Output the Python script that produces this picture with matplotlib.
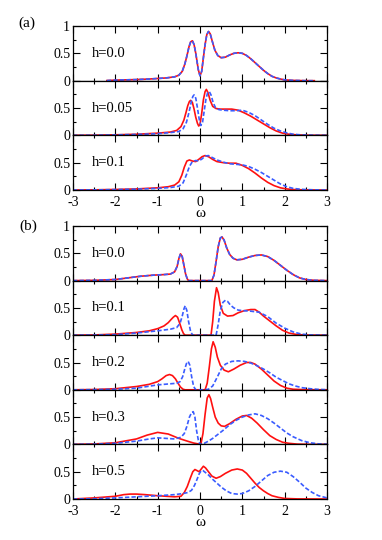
import matplotlib
matplotlib.use("Agg")
import matplotlib.pyplot as plt
from matplotlib.ticker import MultipleLocator, FixedLocator, FixedFormatter

# ---- data: omega grid + spectral weight per curve ----
# (a) h=0.0  (red and blue coincide)
wa0 = [-2.2, -2.0, -1.5, -1.2, -1.0, -0.8, -0.6, -0.5, -0.42, -0.36, -0.31, -0.26, -0.22, -0.18,
       -0.14, -0.1, -0.07, -0.04, 0.0, 0.04, 0.08, 0.12, 0.16, 0.2, 0.24, 0.29, 0.35, 0.42, 0.5,
       0.6, 0.7, 0.8, 0.9, 1.0, 1.1, 1.2, 1.3, 1.4, 1.5, 1.6, 1.7, 1.8, 1.9, 2.0, 2.2, 2.5, 2.7]
sa0 = [0.002, 0.01, 0.02, 0.03, 0.04, 0.05, 0.07, 0.1, 0.17, 0.3, 0.45, 0.62, 0.71, 0.73,
       0.66, 0.5, 0.35, 0.2, 0.09, 0.17, 0.42, 0.66, 0.84, 0.9, 0.86, 0.72, 0.56, 0.46, 0.42,
       0.43, 0.47, 0.5, 0.51, 0.5, 0.46, 0.4, 0.33, 0.26, 0.19, 0.13, 0.08, 0.05, 0.03, 0.015, 0.005, 0, 0]

# (a) h=0.05
wa5r = [-3, -2.5, -2, -1.5, -1.0, -0.7, -0.55, -0.45, -0.38, -0.33, -0.29, -0.25, -0.22, -0.18,
        -0.14, -0.1, -0.06, -0.03, 0.0, 0.04, 0.08, 0.12, 0.15, 0.19, 0.24, 0.3, 0.38, 0.48, 0.6,
        0.75, 0.9, 1.05, 1.2, 1.35, 1.5, 1.65, 1.8, 1.95, 2.1, 2.3, 2.6, 3]
sa5r = [0, 0.003, 0.01, 0.02, 0.04, 0.06, 0.09, 0.16, 0.28, 0.42, 0.54, 0.62, 0.64, 0.6,
        0.48, 0.33, 0.22, 0.17, 0.2, 0.4, 0.65, 0.8, 0.84, 0.78, 0.64, 0.53, 0.49, 0.48, 0.48,
        0.48, 0.46, 0.41, 0.35, 0.28, 0.21, 0.14, 0.08, 0.04, 0.02, 0.008, 0.002, 0]
wa5b = [-3, -2.5, -2, -1.5, -1.0, -0.7, -0.5, -0.4, -0.32, -0.26, -0.21, -0.17, -0.14, -0.1,
        -0.06, -0.02, 0.02, 0.06, 0.1, 0.14, 0.18, 0.22, 0.26, 0.31, 0.37, 0.45, 0.55, 0.7, 0.85,
        1.0, 1.15, 1.3, 1.45, 1.6, 1.75, 1.9, 2.05, 2.2, 2.4, 2.7, 3]
sa5b = [0, 0.002, 0.008, 0.016, 0.03, 0.05, 0.07, 0.12, 0.24, 0.42, 0.6, 0.71, 0.74, 0.68,
        0.5, 0.3, 0.18, 0.24, 0.45, 0.66, 0.78, 0.8, 0.74, 0.6, 0.5, 0.47, 0.46, 0.45, 0.45,
        0.46, 0.42, 0.36, 0.28, 0.2, 0.13, 0.08, 0.045, 0.02, 0.008, 0.002, 0]

# (a) h=0.1
wa1r = [-3, -2.5, -2, -1.5, -1.0, -0.75, -0.6, -0.5, -0.43, -0.37, -0.31, -0.25, -0.18, -0.1,
        -0.03, 0.05, 0.12, 0.2, 0.3, 0.4, 0.55, 0.7, 0.85, 1.0, 1.15, 1.3, 1.45, 1.6, 1.75, 1.9,
        2.05, 2.2, 2.5, 3]
sa1r = [0, 0.003, 0.01, 0.02, 0.04, 0.06, 0.09, 0.15, 0.27, 0.42, 0.53, 0.55, 0.53, 0.52,
        0.56, 0.61, 0.63, 0.61, 0.56, 0.52, 0.5, 0.49, 0.49, 0.45, 0.39, 0.31, 0.22, 0.14, 0.08, 0.04,
        0.02, 0.008, 0.002, 0]
wa1b = [-3, -2.5, -2, -1.5, -1.0, -0.7, -0.5, -0.4, -0.32, -0.25, -0.18, -0.1, -0.03, 0.05,
        0.12, 0.2, 0.3, 0.4, 0.55, 0.7, 0.85, 1.0, 1.15, 1.3, 1.45, 1.6, 1.75, 1.9, 2.05, 2.2,
        2.4, 2.7, 3]
sa1b = [0, 0.002, 0.008, 0.016, 0.03, 0.045, 0.07, 0.13, 0.28, 0.43, 0.52, 0.54, 0.53, 0.57,
        0.62, 0.63, 0.59, 0.55, 0.51, 0.48, 0.47, 0.46, 0.43, 0.38, 0.32, 0.25, 0.18, 0.11, 0.06, 0.03,
        0.012, 0.003, 0]

# (b) h=0.0  (red and blue coincide)
wb0 = [-3, -2.5, -2.0, -1.7, -1.4, -1.1, -0.85, -0.7, -0.6, -0.54, -0.5, -0.46, -0.42, -0.38,
       -0.34, -0.3, -0.27, 0.28, 0.33, 0.38, 0.43, 0.48, 0.52, 0.57, 0.63, 0.7, 0.78, 0.87, 1.0,
       1.15, 1.3, 1.45, 1.6, 1.75, 1.9, 2.05, 2.2, 2.35, 2.5, 2.7, 3]
sb0 = [0, 0.005, 0.02, 0.05, 0.08, 0.1, 0.11, 0.12, 0.16, 0.26, 0.4, 0.49, 0.44, 0.28,
       0.12, 0.03, 0, 0, 0.1, 0.35, 0.62, 0.78, 0.8, 0.74, 0.6, 0.48, 0.41, 0.38, 0.39,
       0.43, 0.46, 0.47, 0.44, 0.37, 0.28, 0.19, 0.11, 0.05, 0.02, 0.005, 0]

# (b) h=0.1
wb1r = [-3, -2.5, -2, -1.5, -1.2, -1.0, -0.85, -0.75, -0.68, -0.63, -0.58, -0.53, -0.48, -0.43,
        -0.39, -0.35, 0.26, 0.3, 0.34, 0.39, 0.43, 0.48, 0.55, 0.65, 0.78, 0.9, 1.05, 1.2, 1.3,
        1.4, 1.5, 1.65, 1.8, 1.95, 2.1, 2.3, 2.6, 3]
sb1r = [0, 0.005, 0.02, 0.05, 0.08, 0.12, 0.17, 0.23, 0.29, 0.33, 0.36, 0.33, 0.22, 0.1,
        0.03, 0, 0, 0.25, 0.62, 0.87, 0.78, 0.55, 0.4, 0.35, 0.36, 0.41, 0.45, 0.47, 0.47,
        0.42, 0.35, 0.26, 0.17, 0.09, 0.04, 0.01, 0.002, 0]
wb1b = [-3, -2.5, -2, -1.5, -1.0, -0.7, -0.55, -0.47, -0.42, -0.38, -0.35, -0.31, -0.27, -0.22,
        -0.17, 0.38, 0.43, 0.48, 0.54, 0.6, 0.65, 0.72, 0.8, 0.9, 1.0, 1.2, 1.4, 1.6, 1.8, 2.0,
        2.2, 2.4, 2.6, 3]
sb1b = [0, 0.003, 0.01, 0.04, 0.08, 0.11, 0.14, 0.22, 0.35, 0.48, 0.54, 0.45, 0.25, 0.06,
        0, 0, 0.2, 0.45, 0.6, 0.64, 0.62, 0.55, 0.5, 0.46, 0.45, 0.44, 0.42, 0.34, 0.22, 0.13,
        0.06, 0.02, 0.005, 0]

# (b) h=0.2
wb2r = [-3, -2.5, -2, -1.5, -1.2, -1.0, -0.9, -0.8, -0.72, -0.65, -0.58, -0.52, -0.46, -0.4,
        -0.35, 0.12, 0.17, 0.22, 0.27, 0.31, 0.36, 0.41, 0.48, 0.57, 0.67, 0.8, 0.95, 1.1, 1.2,
        1.3, 1.45, 1.6, 1.75, 1.9, 2.05, 2.2, 2.5, 3]
sb2r = [0, 0.005, 0.02, 0.06, 0.1, 0.15, 0.2, 0.26, 0.28, 0.26, 0.2, 0.12, 0.05, 0.01,
        0, 0, 0.12, 0.42, 0.75, 0.88, 0.78, 0.6, 0.45, 0.36, 0.33, 0.38, 0.45, 0.5, 0.5,
        0.47, 0.38, 0.27, 0.16, 0.08, 0.03, 0.01, 0.002, 0]
wb2b = [-3, -2.5, -2, -1.5, -1.0, -0.7, -0.55, -0.47, -0.41, -0.36, -0.32, -0.28, -0.24, -0.2,
        -0.15, -0.1, 0.1, 0.2, 0.3, 0.4, 0.5, 0.6, 0.75, 0.9, 1.05, 1.2, 1.35, 1.5, 1.65, 1.8,
        1.95, 2.1, 2.25, 2.4, 2.6, 2.8, 3]
sb2b = [0, 0.003, 0.01, 0.03, 0.09, 0.11, 0.12, 0.15, 0.24, 0.38, 0.48, 0.52, 0.45, 0.25,
        0.06, 0, 0, 0.01, 0.07, 0.22, 0.38, 0.47, 0.52, 0.53, 0.52, 0.49, 0.44, 0.38, 0.31, 0.23,
        0.17, 0.11, 0.07, 0.04, 0.02, 0.007, 0.002]

# (b) h=0.3
wb3r = [-3, -2.5, -2, -1.5, -1.25, -1.0, -0.75, -0.5, -0.3, -0.15, 0.02, 0.07, 0.12, 0.17,
        0.21, 0.25, 0.3, 0.36, 0.43, 0.5, 0.58, 0.7, 0.85, 1.0, 1.1, 1.22, 1.35, 1.5, 1.65, 1.8,
        1.95, 2.1, 2.3, 2.6, 3]
sb3r = [0, 0.008, 0.03, 0.1, 0.17, 0.22, 0.19, 0.11, 0.06, 0.025, 0, 0.2, 0.55, 0.85,
        0.91, 0.84, 0.68, 0.5, 0.39, 0.34, 0.33, 0.38, 0.46, 0.52, 0.53, 0.48, 0.39, 0.27, 0.16, 0.09,
        0.04, 0.02, 0.005, 0.001, 0]
wb3b = [-3, -2.5, -2, -1.5, -1.2, -1.0, -0.8, -0.6, -0.45, -0.37, -0.31, -0.25, -0.2, -0.16,
        -0.12, -0.08, -0.04, 0.0, 0.1, 0.2, 0.3, 0.4, 0.55, 0.7, 0.85, 1.0, 1.15, 1.3, 1.45, 1.6,
        1.75, 1.9, 2.05, 2.2, 2.4, 2.6, 2.8, 3]
sb3b = [0, 0.005, 0.02, 0.06, 0.1, 0.12, 0.11, 0.1, 0.13, 0.2, 0.33, 0.5, 0.58, 0.6,
        0.5, 0.25, 0.08, 0, 0.02, 0.06, 0.11, 0.17, 0.26, 0.36, 0.44, 0.5, 0.54, 0.56, 0.53, 0.47,
        0.39, 0.3, 0.21, 0.14, 0.07, 0.03, 0.01, 0.003]

# (b) h=0.5
wb5r = [-3, -2.5, -2.0, -1.8, -1.65, -1.5, -1.3, -1.0, -0.8, -0.6, -0.45, -0.37, -0.3, -0.23,
        -0.17, -0.12, -0.07, -0.02, 0.03, 0.08, 0.13, 0.2, 0.28, 0.38, 0.48, 0.6, 0.75, 0.88, 1.0,
        1.1, 1.2, 1.3, 1.4, 1.5, 1.6, 1.7, 1.85, 2.0, 2.3, 3]
sb5r = [0, 0.02, 0.05, 0.08, 0.09, 0.09, 0.08, 0.06, 0.05, 0.04, 0.05, 0.12, 0.23, 0.38,
        0.5, 0.54, 0.52, 0.5, 0.55, 0.6, 0.57, 0.5, 0.42, 0.38, 0.41, 0.47, 0.53, 0.55, 0.53,
        0.47, 0.38, 0.29, 0.21, 0.15, 0.1, 0.06, 0.03, 0.01, 0.002, 0]
wb5b = [-3, -2.5, -2, -1.5, -1.0, -0.6, -0.4, -0.28, -0.2, -0.13, -0.07, -0.02, 0.03, 0.07,
        0.12, 0.2, 0.3, 0.4, 0.5, 0.62, 0.75, 0.88, 1.0, 1.15, 1.3, 1.45, 1.6, 1.75, 1.9, 2.05,
        2.2, 2.35, 2.5, 2.65, 2.8, 3]
sb5b = [0, 0.005, 0.02, 0.04, 0.06, 0.08, 0.1, 0.12, 0.16, 0.25, 0.36, 0.46, 0.52, 0.52,
        0.49, 0.44, 0.36, 0.29, 0.22, 0.15, 0.1, 0.09, 0.1, 0.15, 0.23, 0.33, 0.43, 0.49, 0.51, 0.49,
        0.41, 0.31, 0.2, 0.12, 0.06, 0.02]

labels_a = ["h=0.0", "h=0.05", "h=0.1"]
labels_b = ["h=0.0", "h=0.1", "h=0.2", "h=0.3", "h=0.5"]
curves_a = [((wa0, sa0), (wa0, sa0)), ((wa5r, sa5r), (wa5b, sa5b)), ((wa1r, sa1r), (wa1b, sa1b))]
curves_b = [((wb0, sb0), (wb0, sb0)), ((wb1r, sb1r), (wb1b, sb1b)), ((wb2r, sb2r), (wb2b, sb2b)),
            ((wb3r, sb3r), (wb3b, sb3b)), ((wb5r, sb5r), (wb5b, sb5b))]

plt.rcParams['font.family'] = ['Liberation Serif', 'DejaVu Serif']
plt.rcParams['axes.unicode_minus'] = False

W, H = 382, 540
fig = plt.figure(figsize=(W / 100, H / 100), dpi=100)
RED = '#ff1010'
BLUE = '#3a5cff'


def panel(top, height, label, red, blue, first, last):
    ax = fig.add_axes([73 / W, 1 - (top + height) / H, 254 / W, height / H])
    ax.plot(red[0], red[1], color=RED, lw=1.2)
    ax.plot(blue[0], blue[1], color=BLUE, lw=1.2, ls=(0, (2.6, 1.3)))
    ax.set_xlim(-3, 3)
    ax.set_ylim(0, 1)
    ax.xaxis.set_major_locator(MultipleLocator(1))
    ax.xaxis.set_minor_locator(MultipleLocator(0.5))
    ax.yaxis.set_major_locator(FixedLocator([0, 0.5, 1]))
    ax.yaxis.set_minor_locator(FixedLocator([0.25, 0.75]))
    ax.yaxis.set_major_formatter(FixedFormatter(['0', '0.5', '1' if first else '']))
    ax.tick_params(which='both', direction='in', top=True, right=True, width=0.8, labelsize=10)
    ax.tick_params(axis='y', pad=2)
    ax.tick_params(axis='x', pad=4)
    ax.tick_params(which='major', length=5)
    ax.tick_params(which='minor', length=2.5)
    for s in ax.spines.values():
        s.set_linewidth(0.9)
    if last:
        ax.set_xlabel('ω', fontsize=11, labelpad=-1)
    else:
        ax.tick_params(labelbottom=False)
    ax.text(0.075, 0.5, label, transform=ax.transAxes, fontsize=10.5, va='center', ha='left')
    return ax


ph = 54.67
for i in range(3):
    panel(26 + i * ph, ph, labels_a[i], curves_a[i][0], curves_a[i][1], i == 0, i == 2)
ph = 54.6
for i in range(5):
    panel(226 + i * ph, ph, labels_b[i], curves_b[i][0], curves_b[i][1], i == 0, i == 4)

fig.text(27 / W, 1 - 23 / H, '(a)', fontsize=11, ha='center', va='center')
fig.text(28 / W, 1 - 226 / H, '(b)', fontsize=11, ha='center', va='center')

fig.savefig('out.png', dpi=100)
